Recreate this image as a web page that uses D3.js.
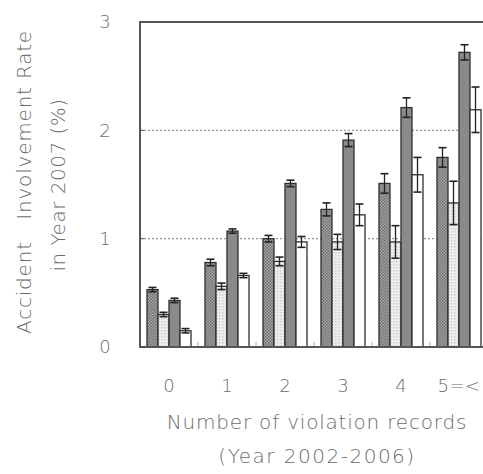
<!DOCTYPE html>
<html>
<head>
<meta charset="utf-8">
<script src="https://cdn.jsdelivr.net/npm/d3@7"></script>
<style>
  body { margin: 0; background: #fff; }
  svg { display: block; }
  text { font-family: "DejaVu Sans", "Liberation Sans", Arial, sans-serif; font-weight: 200; fill: #6c6c6c; }
</style>
</head>
<body>
<svg id="chart" width="483" height="474"></svg>
<script>
// categories (number of violation records)
var groups = ["0", "1", "2", "3", "4", "5=<"];
var seriesKeys = ["a", "b", "c", "d"];

// bar values (%)
var valA = [0.53, 0.78, 1.00, 1.27, 1.51, 1.75];
var valB = [0.30, 0.56, 0.79, 0.97, 0.97, 1.33];
var valC = [0.43, 1.07, 1.51, 1.91, 2.21, 2.72];
var valD = [0.15, 0.66, 0.97, 1.22, 1.59, 2.19];

// error half-widths
var errA = [0.02, 0.03, 0.03, 0.06, 0.09, 0.09];
var errB = [0.02, 0.03, 0.04, 0.07, 0.15, 0.20];
var errC = [0.02, 0.02, 0.03, 0.06, 0.09, 0.07];
var errD = [0.02, 0.02, 0.05, 0.10, 0.16, 0.21];

var yTicks = [0, 1, 2, 3];

var svg = d3.select("#chart");
var plotLeft = 140, plotTop = 22, plotBottom = 347;

// patterns
var defs = svg.append("defs");
var pA = defs.append("pattern").attr("id", "patA")
  .attr("width", 3).attr("height", 3).attr("patternUnits", "userSpaceOnUse");
pA.append("rect").attr("width", 3).attr("height", 3).attr("fill", "#a8a8a8");
pA.append("rect").attr("width", 1.5).attr("height", 1.5).attr("fill", "#6e6e6e");
pA.append("rect").attr("x", 1.5).attr("y", 1.5).attr("width", 1.5).attr("height", 1.5).attr("fill", "#6e6e6e");

var pB = defs.append("pattern").attr("id", "patB")
  .attr("width", 3).attr("height", 3).attr("patternUnits", "userSpaceOnUse");
pB.append("rect").attr("width", 3).attr("height", 3).attr("fill", "#eeeeee");
pB.append("rect").attr("width", 1.5).attr("height", 1.5).attr("fill", "#cfcfcf");

var fills = { a: "url(#patA)", b: "url(#patB)", c: "#8a8a8a", d: "#ffffff" };

var table = groups.map(function(g, i) {
  return {
    group: g,
    bars: [
      { key: "a", v: valA[i], e: errA[i] },
      { key: "b", v: valB[i], e: errB[i] },
      { key: "c", v: valC[i], e: errC[i] },
      { key: "d", v: valD[i], e: errD[i] }
    ]
  };
});

var x0 = d3.scaleBand().domain(groups).range([plotLeft, plotLeft + 58 * groups.length]);
var x1 = d3.scaleBand().domain(seriesKeys).range([7, 51]);
var y = d3.scaleLinear().domain([0, 3]).range([plotBottom, plotTop]);

// gridlines
svg.append("g").selectAll("line")
  .data([1, 2])
  .join("line")
  .attr("x1", plotLeft).attr("x2", 483)
  .attr("y1", function(d) { return y(d); })
  .attr("y2", function(d) { return y(d); })
  .attr("stroke", "#999").attr("stroke-width", 1.2)
  .attr("stroke-dasharray", "2,2");

// bars
var gGroups = svg.append("g").selectAll("g")
  .data(table)
  .join("g")
  .attr("transform", function(d) { return "translate(" + x0(d.group) + ",0)"; });

gGroups.selectAll("rect")
  .data(function(d) { return d.bars; })
  .join("rect")
  .attr("x", function(d) { return x1(d.key); })
  .attr("width", x1.bandwidth())
  .attr("y", function(d) { return y(d.v); })
  .attr("height", function(d) { return plotBottom - y(d.v); })
  .attr("fill", function(d) { return fills[d.key]; })
  .attr("stroke", "#2e2e2e").attr("stroke-width", 1.3);

// error bars
var eb = gGroups.selectAll("g.err")
  .data(function(d) { return d.bars; })
  .join("g").attr("class", "err");

eb.append("line")
  .attr("x1", function(d) { return x1(d.key) + x1.bandwidth() / 2; })
  .attr("x2", function(d) { return x1(d.key) + x1.bandwidth() / 2; })
  .attr("y1", function(d) { return y(d.v + d.e); })
  .attr("y2", function(d) { return y(d.v - d.e); })
  .attr("stroke", "#222").attr("stroke-width", 1.3);

[1, -1].forEach(function(s) {
  eb.append("line")
    .attr("x1", function(d) { return x1(d.key) + 1.5; })
    .attr("x2", function(d) { return x1(d.key) + x1.bandwidth() - 1.5; })
    .attr("y1", function(d) { return y(d.v + s * d.e); })
    .attr("y2", function(d) { return y(d.v + s * d.e); })
    .attr("stroke", "#222").attr("stroke-width", 1.6);
});

// small ticks between groups
svg.append("g").selectAll("line")
  .data(groups.slice(1))
  .join("line")
  .attr("x1", function(d) { return x0(d); })
  .attr("x2", function(d) { return x0(d); })
  .attr("y1", plotBottom).attr("y2", plotBottom - 5)
  .attr("stroke", "#aaa").attr("stroke-width", 1);

// y ticks inside frame
svg.append("g").selectAll("line")
  .data([1, 2])
  .join("line")
  .attr("x1", plotLeft).attr("x2", plotLeft + 4)
  .attr("y1", function(d) { return y(d); })
  .attr("y2", function(d) { return y(d); })
  .attr("stroke", "#555").attr("stroke-width", 1);

// frame
svg.append("path")
  .attr("d", "M490," + plotTop + "H" + plotLeft + "V" + plotBottom + "H490")
  .attr("fill", "none").attr("stroke", "#555").attr("stroke-width", 2);

// y tick labels
svg.append("g").selectAll("text")
  .data(yTicks)
  .join("text")
  .attr("x", 105).attr("y", function(d) { return y(d); })
  .attr("dy", "0.35em")
  .attr("text-anchor", "middle")
  .attr("font-size", 18)
  .text(function(d) { return d; });

// x tick labels
svg.append("g").selectAll("text")
  .data(groups)
  .join("text")
  .attr("x", function(d) { return x0(d) + 29; })
  .attr("y", 386)
  .attr("dy", "0.35em")
  .attr("text-anchor", "middle")
  .attr("font-size", 18)
  .attr("letter-spacing", function(d) { return d.length > 1 ? 0.5 : 0; })
  .text(function(d) { return d; });

// axis titles
svg.append("text")
  .attr("x", 317).attr("y", 422).attr("dy", "0.35em")
  .attr("text-anchor", "middle").attr("font-size", 20)
  .attr("letter-spacing", 0.8)
  .text("Number of violation records");
svg.append("text")
  .attr("x", 317).attr("y", 456).attr("dy", "0.35em")
  .attr("text-anchor", "middle").attr("font-size", 20)
  .attr("letter-spacing", 1.5)
  .text("(Year 2002-2006)");

svg.append("text")
  .attr("transform", "translate(24,182) rotate(-90)")
  .attr("dy", "0.35em")
  .attr("text-anchor", "middle").attr("font-size", 20)
  .attr("letter-spacing", 0.8)
  .attr("xml:space", "preserve")
  .text("Accident   Involvement Rate");
svg.append("text")
  .attr("transform", "translate(58,185) rotate(-90)")
  .attr("dy", "0.35em")
  .attr("text-anchor", "middle").attr("font-size", 20)
  .attr("letter-spacing", 0.5)
  .text("in Year 2007 (%)");
</script>
</body>
</html>
